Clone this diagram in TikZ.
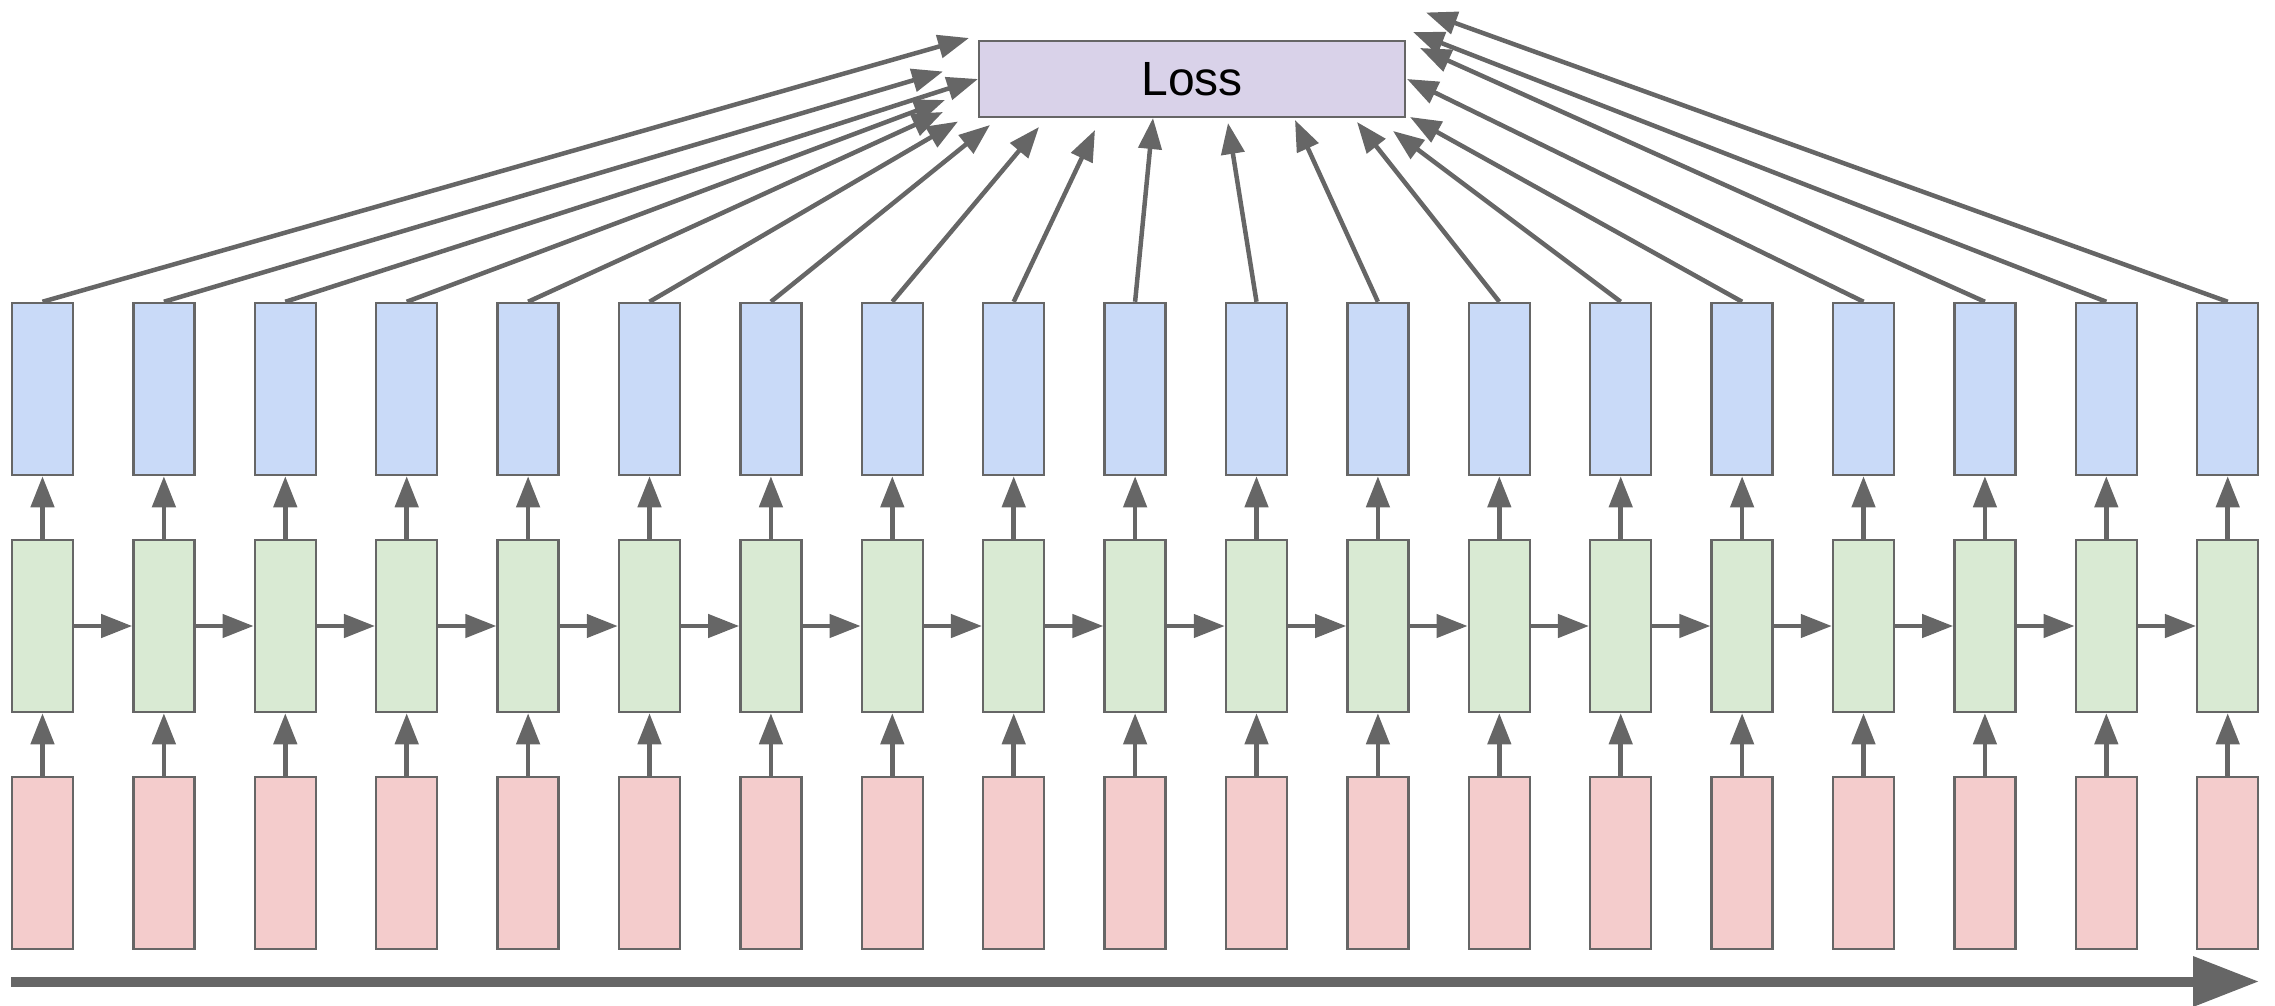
\documentclass[tikz,border=0pt]{standalone}
\usepackage{fontspec}
\setmainfont{Liberation Sans}
\usetikzlibrary{arrows.meta}
\definecolor{edgegray}{HTML}{666666}
\definecolor{bluef}{HTML}{C9DAF8}
\definecolor{greenf}{HTML}{D9EAD3}
\definecolor{redf}{HTML}{F4CCCC}
\definecolor{lossf}{HTML}{D9D2E9}
\begin{document}
\begin{tikzpicture}[x=1pt,y=-1pt,
  cell/.style={rectangle, draw=edgegray, line width=2.5pt, minimum width=61pt, minimum height=172pt, inner sep=0pt},
  outc/.style={cell, fill=bluef},
  hidc/.style={cell, fill=greenf},
  inc/.style={cell, fill=redf},
  lossbox/.style={rectangle, draw=edgegray, line width=2.5pt, fill=lossf, minimum width=426pt, minimum height=76pt, inner sep=0pt, font=\fontsize{48}{58}\selectfont},
  conn/.style={draw=edgegray, line width=4.5pt, -{Triangle[length=31pt,width=23pt]}},
  timeline/.style={draw=edgegray, line width=10pt, -{Triangle[length=66pt,width=48pt]}}
]
\useasboundingbox (0,0) rectangle (2275,1006);
\node[lossbox] (loss) at (1192,79) {Loss};
\foreach \i in {0,...,18} {
  \pgfmathsetmacro{\cx}{42.5+121.4*\i}
  \node[outc] (o\i) at (\cx,389) {};
  \node[hidc] (h\i) at (\cx,626) {};
  \node[inc] (x\i) at (\cx,863) {};
}
\foreach \i in {0,...,18} {
  \draw[conn] (x\i.north) -- (h\i.south);
  \draw[conn] (h\i.north) -- (o\i.south);
}
\foreach \i [evaluate=\i as \j using int(\i+1)] in {0,...,17} {
  \draw[conn] (h\i.east) -- (h\j.west);
}
\foreach \i/\tx/\ty in {0/969/38, 1/943/71.5, 2/978/79, 3/945/100, 4/943/112, 5/958/121.5, 6/990/125, 7/1039/127, 8/1095/130, 9/1153/118, 10/1228/123, 11/1295/120, 12/1357/122, 13/1393/131, 14/1410/117, 15/1407/79, 16/1420/48, 17/1413/32, 18/1426/12.5} {
  \coordinate (t\i) at (\tx,\ty);
  \draw[conn] (o\i.north) -- (t\i);
}
\coordinate (tl0) at (11,981.5);
\coordinate (tl1) at (2259,981.5);
\draw[timeline] (tl0) -- (tl1);
\end{tikzpicture}
\end{document}
